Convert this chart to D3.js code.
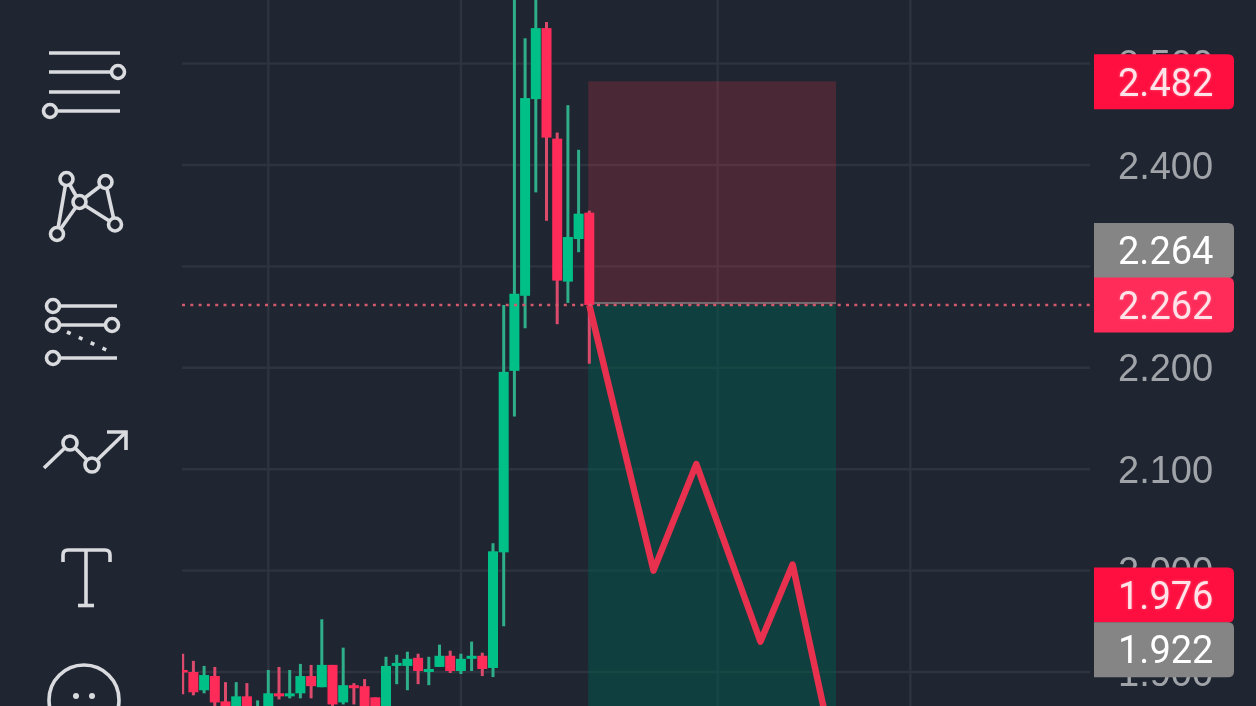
<!DOCTYPE html>
<html>
<head>
<meta charset="utf-8">
<script src="https://cdn.jsdelivr.net/npm/d3@7"></script>
<style>
  html, body { margin: 0; padding: 0; background: #1f2632; overflow: hidden; }
  svg { display: block; font-family: Roboto, sans-serif; }
  .soft { filter: blur(0.6px); }
  .glow { filter: drop-shadow(0 0 1.5px rgba(255,90,120,0.9)); }
</style>
</head>
<body>
<div id="chart"></div>
<script>
const width = 1256, height = 706

// candles, oldest first (prices)
const opens  = [1.902,1.900,1.882,1.896,1.871,1.848,1.876,1.850,1.848,1.879,1.876,1.879,1.896,1.885,1.907,1.870,1.887,1.886,1.875,1.853,1.906,1.906,1.914,1.900,1.905,1.916,1.901,1.913,1.916,1.904,2.018,2.197,2.271,2.465,2.535,2.426,2.285,2.327,2.353]
const highs  = [1.918,1.911,1.906,1.905,1.890,1.890,1.889,1.872,1.902,1.905,1.902,1.908,1.907,1.952,1.907,1.924,1.889,1.893,1.875,1.915,1.917,1.920,1.918,1.915,1.927,1.921,1.918,1.930,1.919,2.027,2.262,2.583,2.525,2.600,2.541,2.432,2.459,2.415,2.355]
const lows   = [1.878,1.877,1.879,1.863,1.855,1.845,1.845,1.845,1.845,1.873,1.874,1.874,1.874,1.885,1.865,1.868,1.868,1.855,1.850,1.850,1.888,1.882,1.888,1.887,1.905,1.899,1.898,1.901,1.896,1.895,1.945,2.152,2.239,2.373,2.345,2.243,2.264,2.314,2.204]
const closes = [1.900,1.880,1.897,1.870,1.861,1.876,1.850,1.860,1.879,1.876,1.879,1.896,1.886,1.907,1.868,1.887,1.884,1.863,1.855,1.906,1.909,1.913,1.901,1.903,1.916,1.901,1.913,1.916,1.903,2.019,2.196,2.273,2.466,2.535,2.427,2.286,2.329,2.352,2.262]

const priceTicks = [2.5, 2.4, 2.3, 2.2, 2.1, 2.0, 1.9]
const timeTicks = [8, 26, 50, 68]

// position tool
const entryPrice = 2.262
const stopPrice = 2.4825
const targetPrice = 1.80
const toolStart = 37.9
const toolEnd = 61.05

// projected path
const pathIdx = [38, 44, 48, 54, 57, 60]
const pathPrices = [2.262, 2.000, 2.105, 1.930, 2.006, 1.860]

// price tags on the right
const tagValues = ['2.482', '2.264', '2.262', '1.976', '1.922']
const tagPrices = [2.482, 2.264, 2.262, 1.976, 1.922]
const tagColors = ['#ff0f40', '#858585', '#ff2c5a', '#ff0f40', '#858585']
const tagText = ['#ffe3e8', '#ffffff', '#ffe3e8', '#ffe3e8', '#ffffff']

const x = d3.scaleLinear().domain([0, 68]).range([182.7, 910.3])
const y = d3.scaleLinear().domain([2.4, 1.9]).range([165, 672])

const green = '#00c087', red = '#ff2c5a'
const bodyW = 10, wickW = 3
const tagH = 54.5

// a tag that would sit on the one below it gets pushed up out of the way
const tagY = tagPrices.map(d => y(d))
for (let i = tagY.length - 2; i >= 0; i--) {
  if (tagY[i + 1] - tagY[i] < tagH) tagY[i] = tagY[i + 1] - tagH
}

const svg = d3.select('#chart').append('svg')
  .attr('width', width)
  .attr('height', height)

svg.append('rect').attr('width', width).attr('height', height).attr('fill', '#1f2632')

svg.append('clipPath').attr('id', 'plot')
  .append('rect').attr('x', 182).attr('y', 0).attr('width', 908).attr('height', height)

const plot = svg.append('g').attr('class', 'soft').attr('clip-path', 'url(#plot)')

// grid
plot.selectAll('.hgrid')
  .data(priceTicks)
  .enter().append('line')
  .attr('x1', 182).attr('x2', 1090)
  .attr('y1', d => y(d)).attr('y2', d => y(d))
  .attr('stroke', '#2d343f').attr('stroke-width', 2.4)

plot.selectAll('.vgrid')
  .data(timeTicks)
  .enter().append('line')
  .attr('x1', d => x(d)).attr('x2', d => x(d))
  .attr('y1', 0).attr('y2', height)
  .attr('stroke', '#2d343f').attr('stroke-width', 2.4)

// long/short boxes
plot.append('rect')
  .attr('x', x(toolStart)).attr('width', x(toolEnd) - x(toolStart))
  .attr('y', y(stopPrice)).attr('height', y(entryPrice) - y(stopPrice))
  .attr('fill', 'rgba(255,50,70,0.2)')
plot.append('rect')
  .attr('x', x(toolStart)).attr('width', x(toolEnd) - x(toolStart))
  .attr('y', y(entryPrice)).attr('height', y(targetPrice) - y(entryPrice))
  .attr('fill', 'rgba(0,90,75,0.5)')
plot.append('line')
  .attr('x1', x(toolStart)).attr('x2', x(toolEnd))
  .attr('y1', y(entryPrice) - 2).attr('y2', y(entryPrice) - 2)
  .attr('stroke', '#6f6a70').attr('stroke-width', 2)

// candles
const candles = opens.map((o, i) => ({ i, o, h: highs[i], l: lows[i], c: closes[i] }))

plot.selectAll('.wick')
  .data(candles)
  .enter().append('line')
  .attr('x1', d => x(d.i)).attr('x2', d => x(d.i))
  .attr('y1', d => y(d.h)).attr('y2', d => y(d.l))
  .attr('stroke', d => d.c >= d.o ? '#2fae8a' : '#dc4a6c')
  .attr('stroke-width', wickW)

plot.selectAll('.body')
  .data(candles)
  .enter().append('rect')
  .attr('x', d => x(d.i) - bodyW / 2)
  .attr('width', bodyW)
  .attr('y', d => y(Math.max(d.o, d.c)))
  .attr('height', d => Math.max(2.5, Math.abs(y(d.o) - y(d.c))))
  .attr('fill', d => d.c >= d.o ? green : red)

// entry dotted line
svg.append('line')
  .attr('class', 'soft')
  .attr('x1', 182).attr('x2', 1094)
  .attr('y1', y(entryPrice)).attr('y2', y(entryPrice))
  .attr('stroke', '#d4596c').attr('stroke-width', 2.4)
  .attr('stroke-dasharray', '3 5.3')

// projected path
const pathLine = d3.line().x(d => x(d[0])).y(d => y(d[1]))
plot.append('path')
  .attr('d', pathLine(pathIdx.map((d, i) => [d, pathPrices[i]])))
  .attr('fill', 'none')
  .attr('stroke', '#e8304f')
  .attr('stroke-width', 6.5)
  .attr('stroke-linejoin', 'round')

// price axis
const axis = d3.axisRight(y)
  .tickValues(priceTicks)
  .tickFormat(d3.format('.3f'))
  .tickSize(0)
  .tickPadding(0)

const axisG = svg.append('g')
  .attr('class', 'soft')
  .attr('transform', 'translate(1118,1)')
  .call(axis)
axisG.select('.domain').remove()
axisG.selectAll('text')
  .attr('fill', '#a0a3a8')
  .style('font-size', '38px')

// price tags
const tags = svg.selectAll('.tag')
  .data(tagValues)
  .enter().append('g')
  .attr('transform', (d, i) => `translate(1094,${tagY[i]})`)

tags.append('path')
  .attr('d', 'M0,-27.5 H134 Q140,-27.5 140,-21.5 V21.5 Q140,27.5 134,27.5 H0 Z')
  .attr('fill', (d, i) => tagColors[i])

tags.append('text')
  .attr('x', 24)
  .attr('dy', '0.36em')
  .attr('class', (d, i) => tagColors[i] === '#858585' ? 'soft' : 'glow')
  .attr('fill', (d, i) => tagText[i])
  .style('font-size', '38px')
  .text(d => d)

// left toolbar
const iconColor = '#d9dbdf'
const icons = svg.append('g')
  .attr('fill', 'none')
  .attr('stroke', iconColor)
  .attr('stroke-width', 3.6)
  .attr('class', 'soft')

const seg = (a, b, c, d) => icons.append('line').attr('x1', a).attr('y1', b).attr('x2', c).attr('y2', d)
const dot = (a, b, r) => icons.append('circle').attr('cx', a).attr('cy', b).attr('r', r).attr('fill', '#1f2632')

// horizontal lines icon
seg(49, 53, 120, 53)
seg(49, 72, 112, 72)
dot(118, 72, 6.5)
seg(49, 92, 120, 92)
seg(56, 111, 120, 111)
dot(50, 111, 6.5)

// pattern icon
seg(66.5, 179, 57, 234)
seg(66.5, 179, 79.5, 202)
seg(79.5, 202, 105.5, 182)
seg(105.5, 182, 115, 224.5)
seg(79.5, 202, 115, 224.5)
seg(79.5, 202, 57, 234)
dot(66.5, 179, 6.5)
dot(105.5, 182, 6.5)
dot(79.5, 202, 6.5)
dot(115, 224.5, 6.5)
dot(57, 234, 6.5)

// fib icon
seg(59, 306, 117, 306)
dot(53, 306, 6.5)
seg(59, 325, 112, 325)
dot(53, 325, 6.5)
dot(112, 325, 6.5)
seg(67, 332, 111, 352).attr('stroke-dasharray', '4 9')
seg(59, 358, 117, 358)
dot(53, 358, 6.5)

// trend icon
icons.append('path').attr('d', 'M44,468 L70,443 L92,465 L126,432')
icons.append('path').attr('d', 'M107,432 H126 V450')
dot(70, 443, 7)
dot(92, 465, 7)

// text icon
icons.append('path').attr('d', 'M63,562 V555 Q63,550 68,550 H105 Q110,550 110,555 V562')
seg(86, 550, 86, 605)
seg(78, 605.5, 94, 605.5)

// emoji icon
icons.append('circle').attr('cx', 84).attr('cy', 700).attr('r', 35)
icons.append('circle').attr('cx', 76).attr('cy', 696).attr('r', 3).attr('fill', iconColor).attr('stroke', 'none')
icons.append('circle').attr('cx', 92).attr('cy', 696).attr('r', 3).attr('fill', iconColor).attr('stroke', 'none')
</script>
</body>
</html>
